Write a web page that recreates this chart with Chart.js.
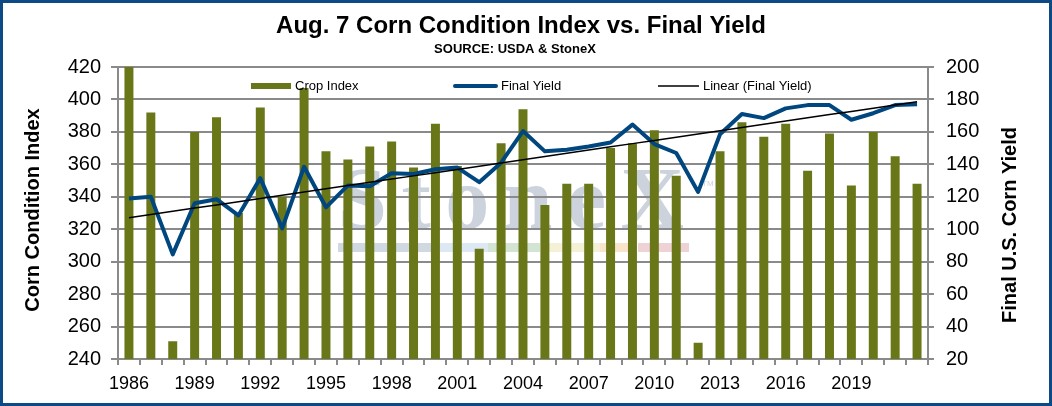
<!DOCTYPE html>
<html>
<head>
<meta charset="utf-8">
<script src="https://cdn.jsdelivr.net/npm/chart.js@4/dist/chart.umd.min.js"></script>
<style>
  html, body { margin: 0; padding: 0; background: #fff; overflow: hidden; }
  #wrap { width: 1052px; height: 406px; }
</style>
</head>
<body>
<div id="wrap"><canvas id="cornChart" width="1052" height="406"></canvas></div>
<script>
const years = ['1986','1987','1988','1989','1990','1991','1992','1993','1994','1995',
  '1996','1997','1998','1999','2000','2001','2002','2003','2004','2005',
  '2006','2007','2008','2009','2010','2011','2012','2013','2014','2015',
  '2016','2017','2018','2019','2020','2021','2022'];

// Aug. 7 crop condition index (left axis)
const cropIndex = [420, 392, 251, 380, 389, 330, 395, 340, 407, 368,
  363, 371, 374, 358, 385, 359, 308, 373, 394, 335,
  348, 348, 370, 373, 381, 353, 250, 368, 386, 377,
  385, 356, 379, 347, 380, 365, 348];

// final yield, bu/acre (right axis)
const finalYield = [119, 120, 84.5, 116, 118.5, 108.5, 131.5, 100.5, 138.5, 113.5,
  127, 126.5, 134.5, 134, 137, 138, 129, 141, 160.5, 148,
  149, 151, 153.5, 164.5, 152.5, 147, 123, 158.5, 171, 168.5,
  174.5, 176.5, 176.5, 167.5, 171.5, 176.5, 177];

const FONT = '"Liberation Sans", Arial, sans-serif';
const GRID = '#8a8a8a';
const OLIVE = '#6a7719';
const NAVY = '#00467f';

// least squares fit, same as the Excel "Linear" trendline
function linearFit(ys) {
  const n = ys.length;
  let sx = 0, sy = 0, sxy = 0, sxx = 0;
  ys.forEach((y, i) => { sx += i; sy += y; sxy += i * y; sxx += i * i; });
  const b = (n * sxy - sx * sy) / (n * sxx - sx * sx);
  const a = (sy - b * sx) / n;
  return ys.map((_, i) => a + b * i);
}
const trend = linearFit(finalYield);

const watermark = {
  id: 'watermark',
  beforeDraw(chart) {
    const c = chart.ctx;
    c.save();
    c.fillStyle = '#fff';
    c.fillRect(0, 0, chart.width, chart.height);

    // faint StoneX logo in the plot
    c.font = 'bold 88px "Liberation Serif", "DejaVu Serif", serif';
    c.fillStyle = 'rgb(204,211,221)';
    c.textBaseline = 'alphabetic';
    const word = 'StoneX';
    const widths = [...word].map(ch => c.measureText(ch).width);
    const total = widths.reduce((a, b) => a + b, 0);
    const gap = (346 - total) / (word.length - 1);
    let x = 338;
    [...word].forEach((ch, i) => { c.fillText(ch, x, 228); x += widths[i] + gap; });
    c.font = '8px ' + FONT;
    c.fillText('TM', 702, 186);

    const band = [['#d0d8e1', 338, 433], ['#dce8f3', 433, 488], ['#d3e4d3', 488, 540],
      ['#f4f1d6', 548, 600], ['#f7e4cb', 600, 634], ['#eed2d6', 638, 689]];
    band.forEach(([col, a, b]) => { c.fillStyle = col; c.fillRect(a, 243, b - a, 9); });
    c.restore();
  }
};

const decorations = {
  id: 'decorations',
  afterDraw(chart) {
    const c = chart.ctx;
    c.save();
    c.fillStyle = '#000';
    c.textAlign = 'center';
    c.textBaseline = 'alphabetic';
    c.font = 'bold 24px ' + FONT;
    c.fillText('Aug. 7 Corn Condition Index vs. Final Yield', 521, 33);
    c.font = 'bold 13px ' + FONT;
    c.fillText('SOURCE: USDA & StoneX', 515, 53);

    // axis titles
    c.font = 'bold 20px ' + FONT;
    c.textBaseline = 'middle';
    c.save();
    c.translate(33, 210);
    c.rotate(-Math.PI / 2);
    c.fillText('Corn Condition Index', 0, 0);
    c.restore();
    c.save();
    c.translate(1010, 225);
    c.rotate(-Math.PI / 2);
    c.fillText('Final U.S. Corn Yield', 0, 0);
    c.restore();

    // legend inside the plot
    c.font = '13px ' + FONT;
    c.textAlign = 'left';
    c.fillStyle = OLIVE;
    c.fillRect(251, 83, 40, 6);
    c.lineCap = 'round';
    c.strokeStyle = NAVY;
    c.lineWidth = 4;
    c.beginPath(); c.moveTo(455, 86); c.lineTo(496, 86); c.stroke();
    c.strokeStyle = '#000';
    c.lineWidth = 1.5;
    c.lineCap = 'butt';
    c.beginPath(); c.moveTo(658, 86); c.lineTo(699, 86); c.stroke();
    c.fillStyle = '#000';
    c.fillText('Crop Index', 295, 86);
    c.fillText('Final Yield', 501, 86);
    c.fillText('Linear (Final Yield)', 703, 86);

    // outer frame
    c.strokeStyle = '#0b4a84';
    c.lineWidth = 3;
    c.strokeRect(1.5, 1.5, chart.width - 3, chart.height - 3);
    c.restore();
  }
};

const ctx = document.getElementById('cornChart').getContext('2d');

let chart = new Chart(ctx, {
  type: 'bar',
  data: {
    labels: years,
    datasets: [{
      type: 'line',
      label: 'Linear (Final Yield)',
      data: trend,
      yAxisID: 'y1',
      borderColor: '#000',
      borderWidth: 1.5,
      pointRadius: 0,
      tension: 0,
      order: 1
    }, {
      type: 'line',
      label: 'Final Yield',
      data: finalYield,
      yAxisID: 'y1',
      borderColor: NAVY,
      borderWidth: 4,
      borderJoinStyle: 'round',
      pointRadius: 0,
      tension: 0,
      order: 2
    }, {
      label: 'Crop Index',
      data: cropIndex,
      yAxisID: 'y',
      backgroundColor: OLIVE,
      categoryPercentage: 1,
      barPercentage: 0.41,
      order: 3
    }]
  },
  options: {
    responsive: false,
    animation: false,
    layout: { padding: { top: 67, left: 0, right: 0, bottom: 0 } },
    plugins: {
      legend: { display: false },
      title: { display: false },
      tooltip: { enabled: false }
    },
    scales: {
      x: {
        grid: { drawOnChartArea: false, drawTicks: true, tickLength: 6, color: GRID, lineWidth: 2 },
        border: { color: GRID, width: 2 },
        ticks: {
          autoSkip: false,
          maxRotation: 0,
          padding: 8,
          color: '#000',
          font: { family: FONT, size: 18 },
          // every third year, last one left out as in the original
          callback: function (v, i) {
            return (i % 3 === 0 && i < years.length - 1) ? this.getLabelForValue(v) : '';
          }
        },
        afterFit: s => { s.height = 47; }
      },
      y: {
        position: 'left',
        min: 240,
        max: 420,
        grid: { color: GRID, lineWidth: 2, tickLength: 7 },
        border: { color: GRID, width: 2 },
        ticks: { stepSize: 20, padding: 10, color: '#000', font: { family: FONT, size: 20 } },
        afterFit: s => { s.width = 118; }
      },
      y1: {
        position: 'right',
        min: 20,
        max: 200,
        grid: { drawOnChartArea: false, color: GRID, lineWidth: 2, tickLength: 6 },
        border: { color: GRID, width: 2 },
        ticks: { stepSize: 20, padding: 12, color: '#000', font: { family: FONT, size: 20 } },
        afterFit: s => { s.width = 124; }
      }
    }
  },
  plugins: [watermark, decorations]
});
</script>
</body>
</html>
